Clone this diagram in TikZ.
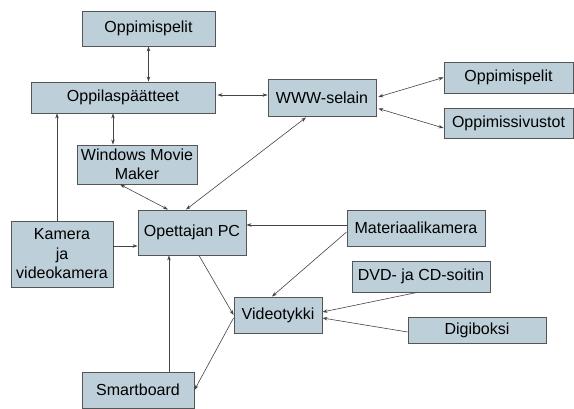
\documentclass[tikz,border=0pt]{standalone}
\usepackage{fontspec}
\setmainfont{Liberation Sans}
\usetikzlibrary{arrows.meta}
\definecolor{boxfill}{HTML}{BDCFD8}
\definecolor{boxline}{HTML}{555555}
\definecolor{arr}{HTML}{444444}
\begin{document}
\begin{tikzpicture}[x=1pt,y=1pt,
  box/.style={draw=boxline, line width=0.9pt, fill=boxfill, inner sep=1pt, align=center,
    font=\fontsize{16}{19.5}\selectfont},
  con/.style={draw=arr, line width=0.6pt, -{Stealth[length=5pt,width=3.5pt]}},
  bicon/.style={draw=arr, line width=0.6pt, {Stealth[length=5pt,width=3.5pt]}-{Stealth[length=5pt,width=3.5pt]}}]
\useasboundingbox (0,0) rectangle (574,409);
\fill[white] (0,0) rectangle (574,409);
\node[box, minimum width=133pt, minimum height=35pt] (op1) at (148.5,380.5) {Oppimispelit};
\node[box, minimum width=184pt, minimum height=31pt] (opp) at (123,311.5) {Oppilaspäätteet};
\node[box, minimum width=120pt, minimum height=39pt] (wmm) at (137,244.5) {Windows Movie\\Maker};
\node[box, minimum width=108pt, minimum height=37pt] (www) at (322,311.5) {WWW-selain};
\node[box, minimum width=129pt, minimum height=31pt] (op2) at (508.5,331.5) {Oppimispelit};
\node[box, minimum width=129pt, minimum height=30pt] (ops) at (508.5,286) {Oppimissivustot};
\node[box, minimum width=102pt, minimum height=66pt] (kam) at (62,155) {Kamera\\ja\\videokamera};
\node[box, minimum width=108pt, minimum height=45pt] (pc) at (192,176.5) {Opettajan PC};
\node[box, minimum width=112pt, minimum height=36pt] (sb) at (138,19) {Smartboard};
\node[box, minimum width=88pt, minimum height=36pt] (vt) at (278,94) {Videotykki};
\node[box, minimum width=138pt, minimum height=36pt] (mk) at (416,181) {Materiaalikamera};
\node[box, minimum width=138pt, minimum height=31pt] (dvd) at (421,132.5) {DVD- ja CD-soitin};
\node[box, minimum width=138pt, minimum height=26pt] (dig) at (477,79) {Digiboksi};

\coordinate (pcw) at ([yshift=-13.5pt]pc.west);
\coordinate (mkw) at ([yshift=3pt]mk.west);

\draw[bicon] (op1.south) -- (op1.south |- opp.north);
\draw[bicon, shorten <=2pt] ([yshift=2.5pt]opp.east) -- ([yshift=2.5pt]www.west);
\draw[bicon] ([xshift=-24pt]wmm.north) -- ([xshift=-24pt]wmm.north |- opp.south);
\draw[bicon, shorten <=2pt] (www.east) -- (op2.west);
\draw[bicon, shorten <=2pt] ([yshift=-10.5pt]www.east) -- ([yshift=-5pt]ops.west);
\draw[con] ([xshift=-5pt]kam.north) -- ([xshift=-5pt]kam.north |- opp.south);
\draw[con] (kam.east |- pcw) -- (pcw);
\draw[bicon] ([xshift=-17pt]wmm.south) -- ([xshift=-24pt]pc.north);
\draw[bicon] ([xshift=-16pt,yshift=-1pt]www.south) -- ([xshift=-6pt]pc.north);
\draw[con] (mkw) -- (pc.east |- mkw);
\draw[con] ([yshift=-4pt]mk.west) -- ([xshift=-6pt]vt.north);
\draw[con] ([xshift=7pt]pc.south) -- (vt.west);
\draw[con] ([yshift=-3pt]vt.west) -- (sb.east);
\draw[con] ([xshift=31pt]sb.north) -- ([xshift=31pt]sb.north |- pc.south);
\draw[con] ([xshift=-4pt]dvd.south) -- ([yshift=3pt]vt.east);
\draw[con] ([yshift=-2pt]dig.west) -- ([yshift=-3pt]vt.east);
\end{tikzpicture}
\end{document}
